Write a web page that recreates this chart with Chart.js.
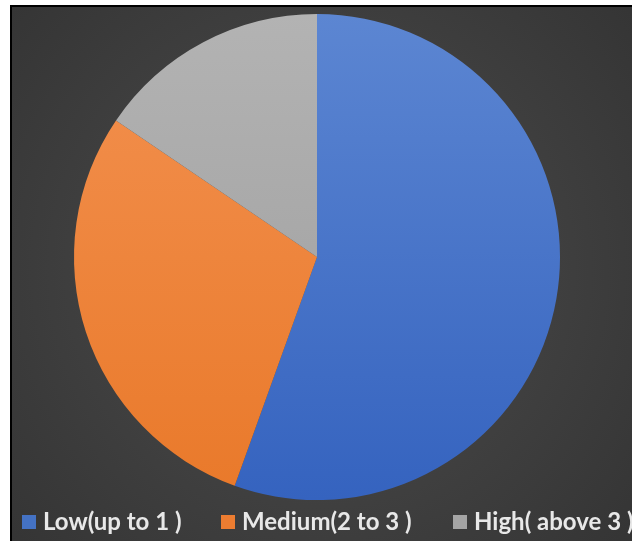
<!DOCTYPE html>
<html>
<head>
<meta charset="utf-8">
<script src="https://cdn.jsdelivr.net/npm/chart.js@4/dist/chart.umd.min.js"></script>
<style>
  html, body { margin: 0; padding: 0; background: #fff; overflow: hidden; }
  #wrap { width: 632px; height: 541px; position: relative; }
</style>
</head>
<body>
<div id="wrap"><canvas id="myChart" width="632" height="541"></canvas></div>
<script>
// data (share of total, %)
const categories = ["Low(up to 1 )", "Medium(2 to 3 )", "High( above 3 )"];
const shares = [55.5, 29.0, 15.5];
const topColors = ["#5c86d2", "#f39150", "#b3b3b3"];
const bottomColors = ["#3563bf", "#e9792a", "#9c9c9c"];
const legendBoxColors = ["#4472c4", "#ed7d31", "#a5a5a5"];
const legendX = [22, 221, 453];

// dark panel behind the pie, with the thin black frame
const backgroundPlugin = {
  id: "panelBackground",
  beforeDraw(chart) {
    let ctx = chart.ctx;
    ctx.save();
    ctx.fillStyle = "#ffffff";
    ctx.fillRect(0, 0, chart.width, chart.height);
    let grad = ctx.createRadialGradient(320, 270, 20, 320, 270, 420);
    grad.addColorStop(0, "#4c4c4c");
    grad.addColorStop(1, "#343434");
    ctx.fillStyle = grad;
    ctx.fillRect(10, 5, chart.width - 10, chart.height - 5);
    ctx.strokeStyle = "#000000";
    ctx.lineWidth = 2;
    ctx.beginPath();
    ctx.moveTo(11, chart.height);
    ctx.lineTo(11, 6);
    ctx.lineTo(chart.width, 6);
    ctx.stroke();
    ctx.restore();
  }
};

// legend drawn at the bottom, clipped on the right like the original
const bottomLegendPlugin = {
  id: "bottomLegend",
  afterDraw(chart) {
    let ctx = chart.ctx;
    ctx.save();
    ctx.font = "bold 24px Lato, 'Open Sans', sans-serif";
    ctx.textBaseline = "alphabetic";
    for (let i = 0; i < categories.length; i++) {
      ctx.fillStyle = legendBoxColors[i];
      ctx.fillRect(legendX[i], 515, 14, 14);
      ctx.fillStyle = "#e8e8e8";
      ctx.fillText(categories[i], legendX[i] + 21, 530);
    }
    ctx.restore();
  }
};

function sliceGradient(context) {
  let chart = context.chart;
  let area = chart.chartArea;
  let i = context.dataIndex;
  if (!area) return topColors[i];
  let g = chart.ctx.createLinearGradient(0, area.top, 0, area.bottom);
  g.addColorStop(0, topColors[i]);
  g.addColorStop(1, bottomColors[i]);
  return g;
}

let ctx = document.getElementById("myChart").getContext("2d");
let chart = new Chart(ctx, {
  type: "pie",
  data: {
    labels: categories,
    datasets: [
      {
        data: shares,
        backgroundColor: sliceGradient,
        borderWidth: 0
      }
    ]
  },
  options: {
    responsive: false,
    animation: false,
    layout: {
      padding: { top: 14, bottom: 41, left: 74, right: 72 }
    },
    plugins: {
      legend: { display: false },
      tooltip: { enabled: false }
    }
  },
  plugins: [backgroundPlugin, bottomLegendPlugin]
});
</script>
</body>
</html>
